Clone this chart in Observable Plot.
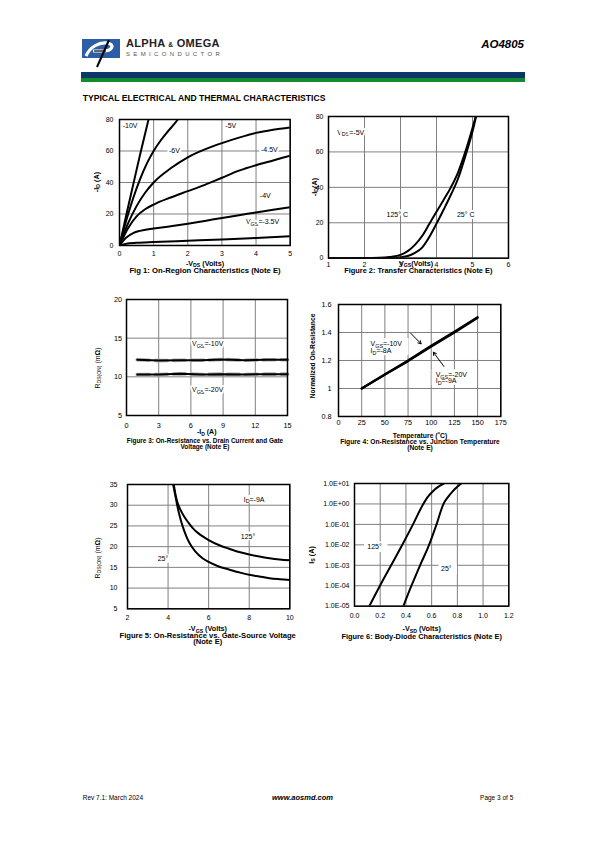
<!DOCTYPE html>
<html><head><meta charset="utf-8">
<script src="https://cdn.jsdelivr.net/npm/d3@7"></script>
<script src="https://cdn.jsdelivr.net/npm/@observablehq/plot@0.6"></script>
<style>
body{margin:0;background:#fff}
#page{position:relative;width:595px;height:842px;overflow:hidden;font-family:'Liberation Sans',Arial,Helvetica,sans-serif;color:#000;background:#fff}
.l{position:absolute;white-space:nowrap;line-height:1}
.s{font-size:0.72em;position:relative;top:0.28em}
</style>
</head><body><div id="page"></div>
<script>
// ---------------- DATA ----------------
// Fig 1: On-region characteristics  [-VDS (V), -ID (A)]
const fig1XTicks = [0,1,2,3,4,5];
const fig1YTicks = [0,20,40,60,80];
const fig1Vgs10  = [[0,0],[0.2,19.5],[0.4,38.5],[0.6,57.5],[0.85,80]];
const fig1Vgs6   = [[0,0],[0.2,16],[0.4,30],[0.6,42],[0.8,52],[1.0,60],[1.2,66.5],[1.4,72],[1.6,77],[1.71,80]];
const fig1Vgs5   = [[0,0],[0.25,14],[0.5,25],[0.75,33.5],[1,40],[1.5,49],[2,56],[2.5,61],[3,65],[3.5,68.5],[4,71.5],[4.5,73.5],[5,75]];
const fig1Vgs45  = [[0,0],[0.25,11],[0.5,18.5],[0.75,23],[1,26],[1.5,30.5],[2,34.5],[2.5,38.5],[3,43],[3.5,47.5],[4,51],[4.5,54],[5,57]];
const fig1Vgs4   = [[0,0],[0.2,5],[0.4,7.8],[0.6,9.3],[1,10.8],[1.5,12.2],[2,13.8],[2.5,15.6],[3,17.5],[3.5,19.2],[4,21],[4.5,22.7],[5,24.3]];
const fig1Vgs35  = [[0,0],[0.2,1.1],[0.5,1.7],[1,2.2],[2,3],[3,3.8],[4,4.7],[5,5.8]];
const fig1Labels = [
  {x:0.31,y:75.8,t:"-10V"},{x:1.61,y:60,t:"-6V"},{x:3.26,y:75.8,t:"-5V"},
  {x:4.39,y:60.7,t:"-4.5V"},{x:4.27,y:31.7,t:"-4V"},{x:4.19,y:14.8,t:"V_{GS}=-3.5V"}];

// Fig 2: Transfer characteristics  [-VGS (V), -ID (A)]
const fig2XTicks = [1,2,3,4,5,6];
const fig2YTicks = [0,20,40,60,80];
const fig2T125 = [[1,0],[2,0.05],[2.4,0.2],[2.7,0.7],[3,1.9],[3.2,4],[3.4,7.5],[3.6,12.5],[3.8,19.3],[4,26.2],[4.2,33],[4.4,40],[4.6,48.5],[4.8,60],[5,73.5],[5.09,80]];
const fig2T25  = [[1,0],[2.5,0],[2.8,0.2],[3,0.5],[3.2,1.2],[3.4,3],[3.6,6],[3.8,12],[4,19.5],[4.2,27.5],[4.4,35.8],[4.6,45],[4.8,57.5],[5,71.5],[5.1,80]];
const fig2Labels = [{x:2.91,y:24.5,t:"125° C"},{x:4.81,y:24.6,t:"25° C"}];
const fig2Cond = [{x:1.24,y:71,t:"V_{DS}=-5V"}];

// Fig 3: On-resistance vs drain current  [-ID (A), RDS(ON) (mΩ)]
const fig3XTicks = [0,3,6,9,12,15];
const fig3YTicks = [5,10,15,20];
const fig3Id  = [1,3,5,7,9,11,13,15];
const fig3R10 = [12.2,12.1,12.15,12.15,12.25,12.15,12.2,12.2];
const fig3R20 = [10.3,10.3,10.4,10.3,10.35,10.3,10.35,10.35];
const fig3Labels = [{x:7.56,y:14.27,t:"V_{GS}=-10V"},{x:7.56,y:8.36,t:"V_{GS}=-20V"}];

// Fig 4: Normalized on-resistance vs temperature
const fig4XTicks = [0,25,50,75,100,125,150,175];
const fig4YTicks = [0.8,1,1.2,1.4,1.6];
const fig4Temp = [25,50,75,100,125,150];
const fig4N10  = [1.0,1.1,1.2,1.305,1.405,1.51];
const fig4N20  = [1.0,1.1,1.195,1.3,1.4,1.505];
const fig4Labels = [
  {x:34.6,y:1.319,t:"V_{GS}=-10V"},{x:34.6,y:1.271,t:"I_{D}=-8A"},
  {x:104.8,y:1.1,t:"V_{GS}=-20V"},{x:104.8,y:1.057,t:"I_{D}=-9A"}];

// Fig 5: On-resistance vs gate-source voltage  [-VGS (V), RDS(ON) (mΩ)]
const fig5XTicks = [2,4,6,8,10];
const fig5YTicks = [5,10,15,20,25,30,35];
const fig5R25  = [[4.25,35],[4.35,32.5],[4.45,30],[4.55,27.8],[4.7,25.2],[4.9,22.5],[5.1,20.5],[5.35,18.8],[5.7,17.2],[6,16.3],[6.5,15.2],[7,14.5],[7.5,13.8],[8,13.2],[8.5,12.8],[9,12.4],[9.5,12.15],[10,11.95]];
const fig5R125 = [[4.28,35],[4.37,32.5],[4.47,30.5],[4.6,29],[4.8,27.2],[5,25.8],[5.25,24.3],[5.5,23.2],[6,21.6],[6.5,20.4],[7,19.5],[7.5,18.7],[8,18.1],[8.5,17.6],[9,17.2],[9.5,16.9],[10,16.7]];
const fig5Labels = [{x:8.24,y:31.4,t:"I_{D}=-9A"},{x:7.94,y:22.5,t:"125°"},{x:3.75,y:17,t:"25°"}];

// Fig 6: Body-diode characteristics  [-VSD (V), IS (A)]
const fig6XTicks = [0,0.2,0.4,0.6,0.8,1.0,1.2];
const fig6YTicks = [1e-5,1e-4,1e-3,1e-2,1e-1,1,10];
const fig6D125 = [[0.115,1e-5],[0.198,1e-4],[0.285,1e-3],[0.372,1e-2],[0.455,1e-1],[0.535,1],[0.57,2.2],[0.61,4.2],[0.65,6.8],[0.695,10]];
const fig6D25  = [[0.38,1e-5],[0.443,1e-4],[0.51,1e-3],[0.58,1e-2],[0.638,1e-1],[0.692,1],[0.725,2.1],[0.76,3.9],[0.795,6.5],[0.83,10]];
const fig6Labels = [{x:0.156,y:0.0083,t:"125°"},{x:0.714,y:0.00069,t:"25°"}];

// ---------------- HELPERS ----------------
const page = document.getElementById("page");
const FONT = "'Liberation Sans', Arial, Helvetica, sans-serif";

function lab(html, x, y, o = {}) {
  const d = document.createElement("div");
  d.className = "l";
  d.innerHTML = html;
  const ax = o.ax ?? -50;
  d.style.left = x + "px"; d.style.top = y + "px";
  d.style.fontSize = (o.size || 7) + "px";
  d.style.fontWeight = o.bold ? "bold" : "normal";
  d.style.fontStyle = o.italic ? "italic" : "normal";
  if (o.color) d.style.color = o.color;
  if (o.ls) d.style.letterSpacing = o.ls + "px";
  d.style.transform = `translate(${ax}%,-50%)` + (o.rot ? " rotate(-90deg)" : "");
  page.appendChild(d);
  return d;
}
const sub = t => `<span class="s">${t}</span>`;

function subify(svg) {
  const NS = "http://www.w3.org/2000/svg";
  svg.querySelectorAll("text").forEach(t => {
    const s = t.textContent;
    if (!s.includes("_{")) return;
    while (t.firstChild) t.removeChild(t.firstChild);
    let wasSub = false;
    s.split(/(_\{[^}]*\})/).forEach(p => {
      if (!p) return;
      const ts = document.createElementNS(NS, "tspan");
      if (p.startsWith("_{")) {
        ts.textContent = p.slice(2, -1);
        ts.setAttribute("font-size", "5.4");
        ts.setAttribute("dy", "1.8");
        wasSub = true;
      } else {
        ts.textContent = p;
        if (wasSub) { ts.setAttribute("dy", "-1.8"); wasSub = false; }
      }
      t.appendChild(ts);
    });
  });
}

function chart(o) {
  const [x0, y0, x1, y1] = o.frame;
  const ml = 42, mt = 8, mr = 8, mb = 18;
  const grid = {stroke: "#808080", strokeOpacity: 1, strokeWidth: 1};
  const svg = Plot.plot({
    width: x1 - x0 + ml + mr, height: y1 - y0 + mt + mb,
    marginLeft: ml, marginTop: mt, marginRight: mr, marginBottom: mb,
    x: {domain: o.xdomain},
    y: {domain: o.ydomain, type: o.ytype || "linear"},
    style: {fontFamily: FONT, fontSize: (o.fs || 7) + "px", color: "#000", background: "transparent", overflow: "visible"},
    marks: [
      Plot.gridX(o.xticks, grid),
      Plot.gridY(o.yticks, grid),
      ...o.marks,
      Plot.frame({stroke: "#000", strokeWidth: 1.5}),
      Plot.axisX(o.xticks, {tickSize: 0, tickPadding: o.xpad, label: null, tickFormat: o.xfmt}),
      Plot.axisY(o.yticks, {tickSize: 0, tickPadding: o.ypad, label: null, tickFormat: o.yfmt})
    ]
  });
  svg.style.position = "absolute";
  svg.style.left = (x0 - ml) + "px";
  svg.style.top = (y0 - mt) + "px";
  subify(svg);
  page.appendChild(svg);
}
const curve = (data, extra = {}) => Plot.line(data, {x: d => d[0], y: d => d[1], stroke: "#000", strokeWidth: 2, curve: "monotone-x", clip: true, ...extra});
const note = (data, extra = {}) => Plot.text(data, {x: "x", y: "y", text: "t", fontSize: 7, stroke: "white", strokeWidth: 4, fill: "#000", ...extra});
const box = (data) => Plot.rect(data, {x1: "a", x2: "b", y1: "c", y2: "d", fill: "white"});

// ---------------- HEADER ----------------
page.insertAdjacentHTML("beforeend", `
<svg width="42" height="32" style="position:absolute;left:81px;top:37px">
  <rect x="1" y="2" width="38" height="19" fill="#2b5ea6"/>
  <path d="M5 19 C 9 10, 18 5, 26 6 C 34 7, 32 14, 22 14 L 12 14" stroke="#fff" stroke-width="3.2" fill="none"/>
  <path d="M28 3 L 16 30" stroke="#000" stroke-width="2"/>
  <path d="M13 14 L 25 14" stroke="#000" stroke-width="1.2"/>
</svg>
<div style="position:absolute;left:81px;top:71.7px;width:444px;height:6px;background:#0b3768"></div>
<div style="position:absolute;left:81px;top:77.7px;width:444px;height:4.6px;background:#138a2c"></div>`);
lab(`ALPHA <span style="font-size:0.6em">&amp;</span> OMEGA`, 126, 42.7, {size: 11, bold: true, ax: 0, ls: 0.3, color: "#222"});
lab("SEMICONDUCTOR", 126, 53.8, {size: 6, ax: 0, ls: 3.35, color: "#555"});
lab("AO4805", 524, 45, {size: 11.5, bold: true, italic: true, ax: -100});
lab("TYPICAL ELECTRICAL AND THERMAL CHARACTERISTICS", 82.7, 98, {size: 8.6, bold: true, ax: 0});

// ---------------- FIG 1 ----------------
chart({
  frame: [119.3, 119, 290, 245], xdomain: [0, 5], ydomain: [0, 80],
  xticks: fig1XTicks, yticks: fig1YTicks, xpad: 6, ypad: 6,
  marks: [
    curve(fig1Vgs10), curve(fig1Vgs6), curve(fig1Vgs5), curve(fig1Vgs45), curve(fig1Vgs4), curve(fig1Vgs35),
    note(fig1Labels)
  ]
});
lab(`-I${sub("D")} (A)`, 97.3, 181.7, {size: 7.3, bold: true, rot: true});
lab(`-V${sub("DS")} (Volts)`, 205, 263.8, {size: 7.2, bold: true});
lab("Fig 1: On-Region Characteristics (Note E)", 205, 271, {size: 7.7, bold: true});

// ---------------- FIG 2 ----------------
chart({
  frame: [328.3, 116, 508.3, 257.7], xdomain: [1, 6], ydomain: [0, 80],
  xticks: fig2XTicks, yticks: fig2YTicks, xpad: 4, ypad: 5,
  marks: [
    curve(fig2T125), curve(fig2T25),
    note(fig2Labels), note(fig2Cond, {textAnchor: "start"})
  ]
});
lab(`-I${sub("D")}(A)`, 315, 187, {size: 7.3, bold: true, rot: true});
lab(`V${sub("GS")}(Volts)`, 416, 263.8, {size: 7.2, bold: true});
lab("Figure 2: Transfer Characteristics (Note E)", 418.3, 271, {size: 7.4, bold: true});

// ---------------- FIG 3 ----------------
chart({
  frame: [125.7, 299, 286.7, 415], xdomain: [0, 15], ydomain: [5, 20],
  xticks: fig3XTicks, yticks: fig3YTicks, xpad: 7.5, ypad: 4.5, fs: 7.3,
  marks: [
    Plot.line(fig3Id, {x: d => d, y: (d, i) => fig3R10[i], stroke: "#aaa", strokeWidth: 3.6, strokeDasharray: "12,6"}),
    Plot.line(fig3Id, {x: d => d, y: (d, i) => fig3R20[i], stroke: "#aaa", strokeWidth: 3.6, strokeDasharray: "12,6"}),
    Plot.line(fig3Id, {x: d => d, y: (d, i) => fig3R10[i], stroke: "#000", strokeWidth: 2}),
    Plot.line(fig3Id, {x: d => d, y: (d, i) => fig3R20[i], stroke: "#000", strokeWidth: 2}),
    note(fig3Labels)
  ]
});
lab(`R${sub("DS(ON)")} (m<b>Ω</b>)`, 97.7, 368, {size: 7, rot: true});
lab(`-I${sub("D")} (A)`, 206.7, 432.3, {size: 7, bold: true});
lab("Figure 3: On-Resistance vs. Drain Current and Gate", 205, 440.7, {size: 6.4, bold: true});
lab("Voltage (Note E)", 205, 447.3, {size: 6.4, bold: true});

// ---------------- FIG 4 ----------------
chart({
  frame: [337.7, 304, 500, 416], xdomain: [0, 175], ydomain: [0.8, 1.6],
  xticks: fig4XTicks, yticks: fig4YTicks, xpad: 3.5, ypad: 7, fs: 7.3,
  yfmt: d => String(d),
  marks: [
    box([{a: 32, b: 76, c: 1.236, d: 1.357}, {a: 101, b: 144.4, c: 1.021, d: 1.133}]),
    Plot.line(fig4Temp, {x: d => d, y: (d, i) => fig4N10[i], stroke: "#000", strokeWidth: 2.2}),
    Plot.line(fig4Temp, {x: d => d, y: (d, i) => fig4N20[i], stroke: "#000", strokeWidth: 2.2}),
    Plot.arrow([{a: 77.8, b: 1.395, c: 89.1, d: 1.319}, {a: 113.7, b: 1.157, c: 102.3, d: 1.259}],
      {x1: "a", y1: "b", x2: "c", y2: "d", stroke: "#000", strokeWidth: 1, headLength: 5}),
    Plot.text(fig4Labels, {x: "x", y: "y", text: "t", fontSize: 7, textAnchor: "start", fill: "#000"})
  ]
});
lab("Normalized On-Resistance", 313.3, 356, {size: 6.7, bold: true, rot: true});
lab(`Temperature (<sup style="font-size:0.6em;line-height:0">o</sup>C)`, 420, 435.5, {size: 6.8, bold: true});
lab("Figure 4: On-Resistance vs. Junction Temperature", 420, 441.9, {size: 6.7, bold: true});
lab("(Note E)", 420, 447.8, {size: 6.7, bold: true});

// ---------------- FIG 5 ----------------
chart({
  frame: [126.7, 484, 289, 608.3], xdomain: [2, 10], ydomain: [5, 35],
  xticks: fig5XTicks, yticks: fig5YTicks, xpad: 6, ypad: 10,
  marks: [
    box([{a: 7.58, b: 8.86, c: 30.4, d: 32.34}, {a: 7.54, b: 8.37, c: 21.45, d: 23.5}, {a: 3.42, b: 4.08, c: 16.0, d: 18.07}]),
    curve(fig5R125), curve(fig5R25),
    Plot.text(fig5Labels, {x: "x", y: "y", text: "t", fontSize: 7, fill: "#000"})
  ]
});
lab(`R${sub("DS(ON)")} (m<b>Ω</b>)`, 98.3, 558, {size: 7, rot: true});
lab(`-V${sub("GS")} (Volts)`, 207.7, 629.2, {size: 7.2, bold: true});
lab("Figure 5: On-Resistance vs. Gate-Source Voltage", 207.7, 636, {size: 7.6, bold: true});
lab("(Note E)", 207.7, 641.8, {size: 7.6, bold: true});

// ---------------- FIG 6 ----------------
const sciFmt = d => { const e = Math.round(Math.log10(d)); return "1.0E" + (e < 0 ? "-" : "+") + String(Math.abs(e)).padStart(2, "0"); };
chart({
  frame: [354, 483.3, 508.3, 606], xdomain: [0, 1.2], ydomain: [1e-5, 10], ytype: "log",
  xticks: fig6XTicks, yticks: fig6YTicks, xpad: 6.5, ypad: 5,
  xfmt: d => d.toFixed(1), yfmt: sciFmt,
  marks: [
    box([{a: 0.078, b: 0.26, c: 0.00427, d: 0.0138}, {a: 0.657, b: 0.8, c: 0.00033, d: 0.0011}]),
    curve(fig6D125), curve(fig6D25),
    Plot.text(fig6Labels, {x: "x", y: "y", text: "t", fontSize: 7, fill: "#000"})
  ]
});
lab(`I${sub("S")} (A)`, 311.7, 555, {size: 7.3, bold: true, rot: true});
lab(`-V${sub("SD")} (Volts)`, 421.7, 629.2, {size: 7.2, bold: true});
lab("Figure 6: Body-Diode Characteristics (Note E)", 421.7, 636.7, {size: 7.4, bold: true});

// ---------------- FOOTER ----------------
lab("Rev 7.1: March 2024", 82.7, 798.3, {size: 6.5, ax: 0});
lab("www.aosmd.com", 302.5, 798.3, {size: 7.5, bold: true, italic: true});
lab("Page 3 of 5", 513.3, 798.3, {size: 6.5, ax: -100});
</script>
</body></html>
